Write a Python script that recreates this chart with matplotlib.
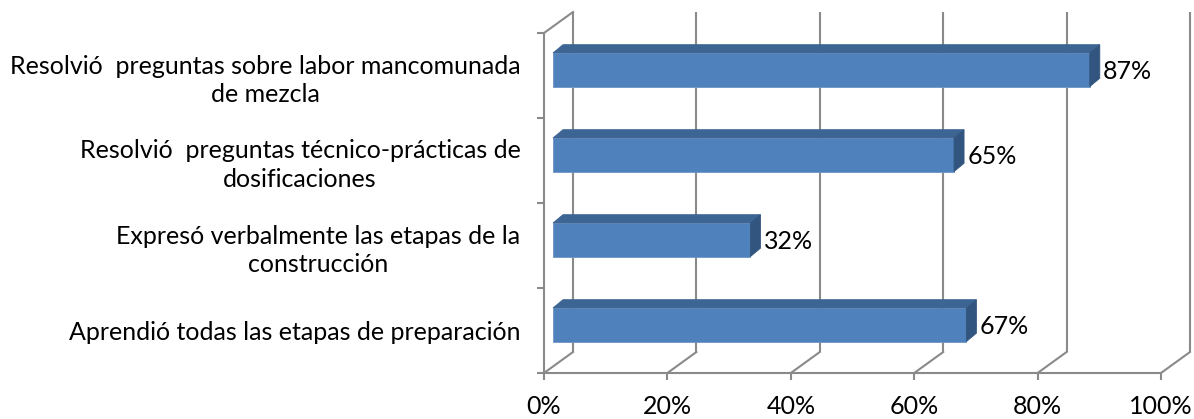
import matplotlib
matplotlib.use("Agg")
import matplotlib.pyplot as plt
from matplotlib.patches import Polygon

categories = [
    "Aprendió todas las etapas de preparación",
    "Expresó verbalmente las etapas de la\nconstrucción",
    "Resolvió  preguntas técnico-prácticas de\ndosificaciones",
    "Resolvió  preguntas sobre labor mancomunada\nde mezcla",
]
values = [67, 32, 65, 87]
value_labels = ["67%", "32%", "65%", "87%"]
xticks = [0, 20, 40, 60, 80, 100]
xtick_labels = ["0%", "20%", "40%", "60%", "80%", "100%"]

FONT = ["Lato", "DejaVu Sans"]
plt.rcParams["font.family"] = FONT

W, H = 1194, 419
fig = plt.figure(figsize=(W / 100, H / 100), dpi=100)
x0px, x1px, ybot, ytop = 544, 1161, 373, 33
ax = fig.add_axes([x0px / W, (H - ybot) / H, (x1px - x0px) / W, (ybot - ytop) / H])
ax.set_xlim(0, 100)
ax.set_ylim(0, len(categories))

pxx = (x1px - x0px) / 100.0          # pixels per percent
pxy = (ybot - ytop) / len(categories)  # pixels per category
# 3D depth offsets in data units
DX, DY = 29 / pxx, 21 / pxy          # full wall depth
BX = 9 / pxx                          # bar front-face x shift
TX, TY = 10 / pxx, 8.3 / pxy          # bar depth
B0, B1 = 0.37, 0.765                  # bar front face within band

grid_c = "#8a8a8a"
lw = 1.5
n = len(categories)

# back wall grid lines and floor diagonals
for t in xticks:
    ax.plot([t + DX, t + DX], [DY, n + DY], color=grid_c, lw=lw, clip_on=False, zorder=1,
            solid_capstyle="butt")
    ax.plot([t, t + DX], [0, DY], color=grid_c, lw=lw, clip_on=False, zorder=1)
# left wall
ax.plot([0, 0], [0, n], color=grid_c, lw=lw, clip_on=False, zorder=2)
ax.plot([0, DX], [n, n + DY], color=grid_c, lw=lw, clip_on=False, zorder=1)
# front floor edge
ax.plot([0, 100], [0, 0], color=grid_c, lw=lw, clip_on=False, zorder=2)

# bars
front_c, top_c, side_c = "#4f81bd", "#3d6594", "#32557f"
for i, v in enumerate(values):
    xa, xb = BX, BX + v
    ya, yb = i + B0, i + B1
    ax.add_patch(Polygon([[xa, ya], [xb, ya], [xb, yb], [xa, yb]], closed=True,
                         facecolor=front_c, edgecolor="#6f95c6", lw=0.6, clip_on=False, zorder=4))
    ax.add_patch(Polygon([[xa, yb], [xb, yb], [xb + TX, yb + TY], [xa + TX, yb + TY]], closed=True,
                         facecolor=top_c, edgecolor=top_c, lw=0.6, clip_on=False, zorder=4))
    ax.add_patch(Polygon([[xb, ya], [xb + TX, ya + TY], [xb + TX, yb + TY], [xb, yb]], closed=True,
                         facecolor=side_c, edgecolor=side_c, lw=0.6, clip_on=False, zorder=4))
    ax.text(xb + TX + 0.5, (ya + yb) / 2 - 0.02, value_labels[i], ha="left", va="center",
            fontsize=18, color="black", zorder=5)

# ticks
for s in ax.spines.values():
    s.set_visible(False)
ax.set_xticks(xticks)
ax.set_xticklabels(xtick_labels, fontsize=18)
ax.tick_params(axis="x", length=5, width=lw, color=grid_c, pad=11, direction="out")
ax.set_yticks([i + 0.5 for i in range(n)])
ax.set_yticklabels(categories, fontsize=18)
ax.tick_params(axis="y", which="major", length=0, pad=17)
for lab in ax.get_yticklabels():
    lab.set_multialignment("center")
    lab.set_linespacing(1.3)
ax.set_yticks(list(range(n + 1)), minor=True)
ax.tick_params(axis="y", which="minor", length=5, width=lw, color=grid_c, direction="out")
ax.patch.set_alpha(0)

fig.savefig("out.png", dpi=100)
